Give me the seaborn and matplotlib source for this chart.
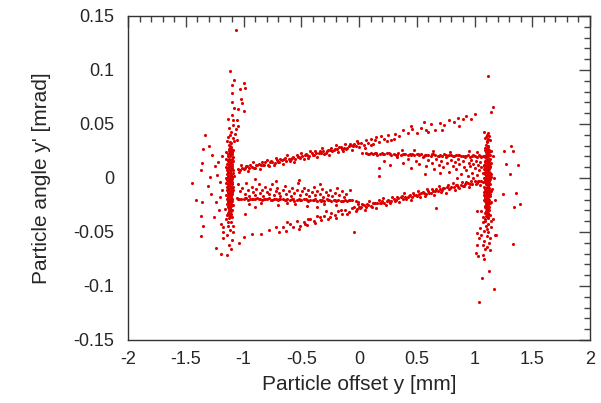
import pandas as pd
import matplotlib
matplotlib.use('Agg')
import matplotlib.pyplot as plt
import seaborn as sns
from matplotlib.ticker import MultipleLocator

# Particle offset y [mm], particle angle y' [mrad]

# dense vertical bunch on the left
left_core = [
    (-1.125, 0.031), (-1.108, 0.029), (-1.117, 0.026), (-1.101, 0.024), (-1.131, 0.022), (-1.112, 0.021),
    (-1.095, 0.019), (-1.122, 0.018), (-1.137, 0.016), (-1.105, 0.015), (-1.118, 0.013), (-1.128, 0.012),
    (-1.097, 0.011), (-1.111, 0.010), (-1.141, 0.009), (-1.123, 0.008), (-1.104, 0.007), (-1.132, 0.006),
    (-1.115, 0.005), (-1.092, 0.005), (-1.145, 0.004), (-1.126, 0.003), (-1.108, 0.002), (-1.136, 0.001),
    (-1.119, 0.000), (-1.099, -0.001), (-1.142, -0.002), (-1.113, -0.002), (-1.127, -0.004), (-1.104, -0.005),
    (-1.138, -0.006), (-1.118, -0.007), (-1.094, -0.008), (-1.131, -0.009), (-1.109, -0.010), (-1.146, -0.011),
    (-1.122, -0.012), (-1.101, -0.013), (-1.135, -0.014), (-1.115, -0.015), (-1.126, -0.017), (-1.106, -0.018),
    (-1.140, -0.019), (-1.119, -0.020), (-1.097, -0.021), (-1.130, -0.022), (-1.111, -0.024), (-1.124, -0.025),
    (-1.135, -0.027), (-1.114, -0.028), (-1.102, -0.030), (-1.127, -0.031), (-1.118, -0.033), (-1.109, -0.035),
    (-1.112, 0.032), (-1.121, 0.028), (-1.104, 0.027), (-1.127, 0.025), (-1.115, 0.023), (-1.098, 0.022),
    (-1.134, 0.020), (-1.109, 0.017), (-1.125, 0.015), (-1.139, 0.013), (-1.100, 0.013), (-1.116, 0.011),
    (-1.131, 0.009), (-1.107, 0.008), (-1.094, 0.007), (-1.120, 0.006), (-1.143, 0.007), (-1.112, 0.004),
    (-1.130, 0.002), (-1.101, 0.001), (-1.123, -0.001), (-1.148, -0.000), (-1.109, -0.003), (-1.134, -0.003),
    (-1.096, -0.004), (-1.121, -0.006), (-1.143, -0.008), (-1.107, -0.008), (-1.125, -0.010), (-1.116, -0.012),
    (-1.138, -0.013), (-1.098, -0.015), (-1.129, -0.016), (-1.110, -0.017), (-1.121, -0.019), (-1.134, -0.021),
    (-1.104, -0.022), (-1.117, -0.023), (-1.139, -0.024), (-1.107, -0.026), (-1.128, -0.028), (-1.120, -0.030),
    (-1.133, -0.032), (-1.106, -0.033),
    (-1.118, 0.030), (-1.129, 0.027), (-1.110, 0.025), (-1.120, 0.020), (-1.103, 0.018), (-1.133, 0.017),
    (-1.113, 0.014), (-1.123, 0.011), (-1.102, 0.009), (-1.136, 0.008), (-1.117, 0.007), (-1.128, 0.004),
    (-1.105, 0.003), (-1.114, 0.001), (-1.132, -0.001), (-1.120, -0.003), (-1.102, -0.006), (-1.130, -0.007),
    (-1.112, -0.009), (-1.137, -0.010), (-1.119, -0.011), (-1.106, -0.014), (-1.128, -0.013), (-1.115, -0.018),
    (-1.132, -0.018), (-1.100, -0.019), (-1.125, -0.021), (-1.112, -0.021), (-1.131, -0.025), (-1.118, -0.026),
    (-1.123, -0.029), (-1.110, -0.031), (-1.115, -0.036), (-1.124, -0.034),
    (-1.152, 0.018), (-1.088, 0.016), (-1.155, 0.010), (-1.086, 0.002), (-1.153, -0.005), (-1.089, -0.011),
    (-1.151, -0.016), (-1.090, -0.025), (-1.149, 0.024), (-1.087, 0.026),
]

left_tails = [
    (-1.117, 0.099), (-1.080, 0.091), (-1.100, 0.086), (-1.000, 0.088), (-1.030, 0.082), (-0.990, 0.083),
    (-1.100, 0.079), (-1.024, 0.073), (-1.100, 0.070), (-1.082, 0.065), (-1.045, 0.064), (-1.010, 0.069),
    (-0.993, 0.062), (-1.130, 0.055), (-1.094, 0.054), (-1.054, 0.054), (-1.088, 0.049), (-1.045, 0.048),
    (-1.108, 0.043), (-1.074, 0.041), (-1.130, 0.038), (-1.094, 0.037), (-1.060, 0.035), (-1.117, 0.033),
    (-1.125, 0.046), (-1.103, 0.058), (-1.068, 0.045), (-1.113, 0.040), (-1.140, 0.034), (-1.085, 0.034),
    (-1.117, -0.030), (-1.145, -0.034), (-1.100, -0.036), (-1.130, -0.041), (-1.088, -0.044), (-1.175, -0.045),
    (-1.117, -0.048), (-1.145, -0.053), (-1.100, -0.057), (-1.180, -0.050), (-1.125, -0.062), (-1.110, -0.066),
    (-1.145, -0.071), (-1.197, -0.070), (-1.238, -0.065), (-1.035, -0.060), (-0.984, -0.033), (-1.190, -0.011),
    (-1.155, -0.038), (-1.128, -0.037), (-1.105, -0.041), (-1.160, -0.029), (-1.135, -0.044), (-1.095, -0.050),
]

left_stray = [
    (-1.065, 0.137), (-1.443, -0.005), (-1.333, 0.040), (-1.353, 0.027), (-1.296, 0.030), (-1.275, 0.021),
    (-1.362, 0.014), (-1.247, 0.011), (-1.218, 0.015), (-1.370, 0.007), (-1.290, 0.001), (-1.232, 0.003),
    (-1.305, -0.007), (-1.284, -0.015), (-1.415, -0.020), (-1.362, -0.022), (-1.238, -0.022), (-1.210, -0.030),
    (-1.253, -0.036), (-1.370, -0.035), (-1.348, -0.044), (-1.195, -0.043), (-1.365, -0.054), (-1.175, -0.056),
    (-1.205, -0.004), (-1.185, 0.020), (-1.200, -0.018),
]

# dense vertical bunch on the right
right_core = [
    (1.112, 0.034), (1.098, 0.031), (1.121, 0.029), (1.105, 0.027), (1.089, 0.026), (1.128, 0.024),
    (1.110, 0.023), (1.096, 0.021), (1.118, 0.020), (1.134, 0.018), (1.102, 0.017), (1.087, 0.016),
    (1.115, 0.015), (1.126, 0.013), (1.094, 0.012), (1.108, 0.011), (1.138, 0.010), (1.121, 0.009),
    (1.083, 0.008), (1.100, 0.007), (1.113, 0.006), (1.131, 0.005), (1.092, 0.004), (1.106, 0.003),
    (1.123, 0.002), (1.141, 0.001), (1.085, 0.000), (1.099, -0.001), (1.116, -0.002), (1.129, -0.003),
    (1.091, -0.004), (1.108, -0.005), (1.136, -0.006), (1.120, -0.007), (1.081, -0.008), (1.097, -0.009),
    (1.112, -0.010), (1.127, -0.011), (1.090, -0.012), (1.104, -0.013), (1.119, -0.014), (1.133, -0.015),
    (1.086, -0.016), (1.101, -0.017), (1.115, -0.018), (1.124, -0.020), (1.093, -0.021), (1.109, -0.022),
    (1.130, -0.023), (1.098, -0.025), (1.117, -0.026), (1.089, -0.027), (1.106, -0.029), (1.125, -0.030),
    (1.095, -0.032), (1.113, -0.033), (1.101, -0.035),
    (1.104, 0.033), (1.116, 0.030), (1.093, 0.028), (1.124, 0.026), (1.101, 0.024), (1.113, 0.022),
    (1.131, 0.021), (1.090, 0.019), (1.107, 0.018), (1.122, 0.016), (1.097, 0.014), (1.111, 0.013),
    (1.084, 0.011), (1.130, 0.011), (1.100, 0.009), (1.117, 0.008), (1.092, 0.006), (1.125, 0.006),
    (1.109, 0.004), (1.137, 0.003), (1.096, 0.002), (1.115, 0.000), (1.103, -0.002), (1.132, -0.001),
    (1.088, -0.003), (1.122, -0.005), (1.100, -0.006), (1.114, -0.007), (1.094, -0.010), (1.129, -0.009),
    (1.107, -0.011), (1.084, -0.013), (1.123, -0.013), (1.111, -0.016), (1.096, -0.015), (1.135, -0.017),
    (1.105, -0.019), (1.088, -0.019), (1.120, -0.022), (1.100, -0.023), (1.114, -0.024), (1.092, -0.026),
    (1.127, -0.027), (1.110, -0.028), (1.099, -0.031), (1.119, -0.032), (1.107, -0.034),
    (1.108, 0.030), (1.097, 0.025), (1.118, 0.024), (1.104, 0.020), (1.125, 0.018), (1.112, 0.016),
    (1.093, 0.015), (1.120, 0.012), (1.105, 0.010), (1.128, 0.008), (1.110, 0.007), (1.097, 0.005),
    (1.118, 0.003), (1.102, 0.000), (1.124, -0.001), (1.092, -0.002), (1.110, -0.003), (1.127, -0.006),
    (1.104, -0.008), (1.118, -0.010), (1.099, -0.012), (1.113, -0.014), (1.126, -0.016), (1.094, -0.018),
    (1.108, -0.020), (1.119, -0.019), (1.104, -0.024), (1.121, -0.025), (1.096, -0.028), (1.113, -0.030),
    (1.104, -0.032), (1.116, -0.036),
    (1.146, 0.014), (1.078, 0.012), (1.147, 0.004), (1.077, -0.004), (1.145, -0.012), (1.079, -0.020),
    (1.144, -0.022), (1.080, 0.020), (1.143, 0.025),
]

right_tails = [
    (1.085, 0.043), (1.120, 0.042), (1.100, 0.038), (1.134, 0.035), (1.090, 0.037), (1.115, 0.036),
    (1.105, 0.040), (1.127, 0.039),
    (1.120, -0.037), (1.060, -0.031), (1.133, -0.034), (1.090, -0.038), (1.019, -0.031), (1.157, -0.038),
    (1.070, -0.041), (1.120, -0.043), (1.050, -0.046), (1.105, -0.047), (1.140, -0.045), (1.024, -0.051),
    (1.060, -0.053), (1.105, -0.054), (1.177, -0.053), (1.041, -0.056), (1.085, -0.058), (1.125, -0.060),
    (1.070, -0.062), (1.019, -0.062), (1.110, -0.064), (1.013, -0.069), (1.070, -0.071), (1.130, -0.067),
    (1.030, -0.072), (1.085, -0.075), (1.128, -0.086), (1.065, -0.093), (1.169, -0.103), (1.042, -0.115),
    (1.095, -0.040), (1.115, -0.050), (1.080, -0.049), (1.100, -0.044), (1.130, -0.056), (1.090, -0.066),
    (1.075, -0.036), (1.140, -0.040),
]

right_stray = [
    (1.120, 0.094), (1.163, 0.066), (1.143, 0.061), (1.258, 0.025), (1.316, 0.030), (1.336, 0.025),
    (1.273, 0.013), (1.380, 0.012), (1.307, 0.004), (1.250, -0.015), (1.360, -0.014), (1.394, -0.024),
    (1.342, -0.027), (1.186, -0.053), (1.331, -0.061), (1.170, 0.000), (1.180, -0.020), (1.160, 0.020),
    (1.150, -0.010),
]

# upper rising band
band_upper = [
    (-1.05, 0.0087), (-1.03, 0.0072), (-1.01, 0.0091), (-0.99, 0.0088), (-0.97, 0.0111), (-0.95, 0.0092),
    (-0.93, 0.0106), (-0.91, 0.0095), (-0.89, 0.0120), (-0.87, 0.0129), (-0.85, 0.0121), (-0.83, 0.0120),
    (-0.81, 0.0144), (-0.79, 0.0123), (-0.77, 0.0145), (-0.75, 0.0145), (-0.73, 0.0143), (-0.71, 0.0163),
    (-0.69, 0.0148), (-0.67, 0.0168), (-0.65, 0.0175), (-0.63, 0.0160), (-0.61, 0.0179), (-0.59, 0.0176),
    (-0.57, 0.0199), (-0.55, 0.0180), (-0.53, 0.0194), (-0.51, 0.0183), (-0.49, 0.0208), (-0.47, 0.0217),
    (-0.45, 0.0209), (-0.43, 0.0208), (-0.41, 0.0232), (-0.39, 0.0211), (-0.37, 0.0233), (-0.35, 0.0233),
    (-0.33, 0.0231), (-0.31, 0.0251), (-0.29, 0.0236), (-0.27, 0.0256), (-0.25, 0.0263), (-0.23, 0.0248),
    (-0.21, 0.0267), (-0.19, 0.0264), (-0.17, 0.0287), (-0.15, 0.0268), (-0.13, 0.0282), (-0.11, 0.0271),
    (-0.09, 0.0296), (-0.07, 0.0305), (-0.05, 0.0297), (-0.03, 0.0296), (-0.01, 0.0320),
    (-1.04, 0.0056), (-1.02, 0.0116), (-1.00, 0.0080), (-0.98, 0.0114), (-0.96, 0.0064), (-0.94, 0.0118),
    (-0.92, 0.0148), (-0.90, 0.0092), (-0.88, 0.0121), (-0.86, 0.0081), (-0.84, 0.0150), (-0.82, 0.0125),
    (-0.80, 0.0169), (-0.78, 0.0108), (-0.76, 0.0153), (-0.74, 0.0122), (-0.72, 0.0182), (-0.70, 0.0146),
    (-0.68, 0.0180), (-0.66, 0.0130), (-0.64, 0.0184), (-0.62, 0.0214), (-0.60, 0.0158), (-0.58, 0.0187),
    (-0.56, 0.0147), (-0.54, 0.0216), (-0.52, 0.0191), (-0.50, 0.0235), (-0.48, 0.0174), (-0.46, 0.0219),
    (-0.44, 0.0188), (-0.42, 0.0248), (-0.40, 0.0212), (-0.38, 0.0246), (-0.36, 0.0196), (-0.34, 0.0250),
    (-0.32, 0.0280), (-0.30, 0.0224), (-0.28, 0.0253), (-0.26, 0.0213), (-0.24, 0.0282), (-0.22, 0.0257),
    (-0.20, 0.0301), (-0.18, 0.0240), (-0.16, 0.0285), (-0.14, 0.0254), (-0.12, 0.0314), (-0.10, 0.0278),
    (-0.08, 0.0312), (-0.06, 0.0262), (-0.04, 0.0316), (-0.02, 0.0346), (0.00, 0.0290),
    (0.02, 0.0325), (0.04, 0.0301), (0.06, 0.0356), (0.08, 0.0322), (0.10, 0.0357), (0.12, 0.0312),
    (0.14, 0.0353), (0.17, 0.0336), (0.19, 0.0391), (0.22, 0.0359), (0.25, 0.0398), (0.28, 0.0356),
    (0.31, 0.0404), (0.35, 0.0385), (0.38, 0.0443), (0.42, 0.0413), (0.46, 0.0454), (0.50, 0.0415),
    (0.54, 0.0466), (0.58, 0.0447), (0.62, 0.0497), (0.66, 0.0448), (0.70, 0.0509), (0.74, 0.0490),
    (0.78, 0.0541), (0.82, 0.0521), (0.86, 0.0552), (0.90, 0.0543), (0.93, 0.0571), (0.97, 0.0542),
    (1.00, 0.0590), (0.15, 0.0380), (0.05, 0.0280), (0.30, 0.0360), (0.60, 0.0430), (0.56, 0.0520),
    (0.45, 0.0480), (0.87, 0.0480), (0.72, 0.0440), (0.24, 0.0340), (0.10, 0.0310),
]

# upper flat line
flat_upper = [
    (0.06, 0.0232), (0.08, 0.0220), (0.10, 0.0228), (0.12, 0.0222), (0.14, 0.0233), (0.16, 0.0216),
    (0.18, 0.0224), (0.20, 0.0227), (0.22, 0.0218), (0.24, 0.0229), (0.26, 0.0227), (0.28, 0.0215),
    (0.30, 0.0223), (0.32, 0.0217), (0.34, 0.0228), (0.36, 0.0211), (0.38, 0.0219), (0.40, 0.0222),
    (0.42, 0.0213), (0.44, 0.0224), (0.46, 0.0222), (0.48, 0.0210), (0.50, 0.0218), (0.52, 0.0212),
    (0.54, 0.0223), (0.56, 0.0206), (0.58, 0.0214), (0.60, 0.0217), (0.62, 0.0208), (0.64, 0.0219),
    (0.66, 0.0217), (0.68, 0.0205), (0.70, 0.0213), (0.72, 0.0207), (0.74, 0.0218), (0.76, 0.0201),
    (0.78, 0.0209), (0.80, 0.0212), (0.82, 0.0203), (0.84, 0.0214), (0.86, 0.0212), (0.88, 0.0200),
    (0.90, 0.0208), (0.92, 0.0202), (0.94, 0.0213), (0.96, 0.0196), (0.98, 0.0204), (1.00, 0.0207),
    (1.02, 0.0198), (1.04, 0.0209), (1.06, 0.0198),
    (0.03, 0.0230), (0.09, 0.0222), (0.15, 0.0230), (0.21, 0.0219), (0.27, 0.0226), (0.33, 0.0214),
    (0.39, 0.0224), (0.45, 0.0211), (0.51, 0.0222), (0.57, 0.0210), (0.63, 0.0220), (0.69, 0.0208),
    (0.75, 0.0215), (0.81, 0.0206), (0.87, 0.0215), (0.93, 0.0205), (0.99, 0.0212), (1.05, 0.0203),
    (1.07, 0.0206),
]

halo_upper = [
    (0.22, 0.016), (0.27, 0.012), (0.33, 0.019), (0.38, 0.014), (0.42, 0.018), (0.45, 0.009),
    (0.49, 0.016), (0.52, 0.013), (0.55, 0.019), (0.58, 0.011), (0.60, 0.017), (0.63, 0.014),
    (0.65, 0.008), (0.67, 0.018), (0.69, 0.012), (0.71, 0.016), (0.73, 0.010), (0.75, 0.019),
    (0.76, 0.014), (0.78, 0.006), (0.80, 0.017), (0.81, 0.011), (0.83, 0.015), (0.84, 0.008),
    (0.86, 0.018), (0.87, 0.013), (0.88, 0.004), (0.90, 0.016), (0.91, 0.010), (0.92, 0.019),
    (0.93, 0.007), (0.95, 0.014), (0.96, 0.011), (0.97, 0.017), (0.98, 0.005), (0.99, 0.013),
    (1.00, 0.009), (1.01, 0.016), (1.02, 0.003), (1.03, 0.012), (1.04, 0.007), (1.05, 0.015),
    (1.06, 0.010), (1.07, 0.005), (0.94, 0.002), (0.85, 0.000), (0.70, 0.005), (0.57, 0.004),
    (0.17, 0.009), (0.37, 0.026), (0.48, 0.026), (0.64, 0.025), (0.79, 0.024), (0.95, 0.025),
    (1.02, 0.024), (0.17, 0.002),
]

# lower flat line
flat_lower = [
    (-1.06, -0.0186), (-1.04, -0.0197), (-1.02, -0.0190), (-1.00, -0.0195), (-0.98, -0.0184), (-0.96, -0.0201),
    (-0.94, -0.0193), (-0.92, -0.0190), (-0.90, -0.0199), (-0.88, -0.0187), (-0.86, -0.0190), (-0.84, -0.0201),
    (-0.82, -0.0194), (-0.80, -0.0199), (-0.78, -0.0188), (-0.76, -0.0205), (-0.74, -0.0197), (-0.72, -0.0194),
    (-0.70, -0.0203), (-0.68, -0.0191), (-0.66, -0.0194), (-0.64, -0.0205), (-0.62, -0.0198), (-0.60, -0.0203),
    (-0.58, -0.0192), (-0.56, -0.0209), (-0.54, -0.0201), (-0.52, -0.0198), (-0.50, -0.0207), (-0.48, -0.0195),
    (-0.46, -0.0198), (-0.44, -0.0209), (-0.42, -0.0202), (-0.40, -0.0207), (-0.38, -0.0196), (-0.36, -0.0213),
    (-0.34, -0.0205), (-0.32, -0.0202), (-0.30, -0.0211), (-0.28, -0.0199), (-0.26, -0.0202), (-0.24, -0.0213),
    (-0.22, -0.0206), (-0.20, -0.0211), (-0.18, -0.0200), (-0.16, -0.0217), (-0.14, -0.0209), (-0.12, -0.0206),
    (-0.10, -0.0215), (-0.08, -0.0203), (-0.06, -0.0206),
    (-1.05, -0.0195), (-0.99, -0.0188), (-0.93, -0.0198), (-0.87, -0.0193), (-0.81, -0.0191), (-0.75, -0.0200),
    (-0.69, -0.0196), (-0.63, -0.0202), (-0.57, -0.0197), (-0.51, -0.0204), (-0.45, -0.0200), (-0.39, -0.0201),
    (-0.33, -0.0209), (-0.27, -0.0204), (-0.21, -0.0203), (-0.15, -0.0212), (-0.09, -0.0208), (-0.03, -0.0213),
    (-0.01, -0.0220),
]

halo_lower = [
    (-1.05, -0.006), (-1.03, -0.012), (-1.01, -0.009), (-0.99, -0.015), (-0.98, -0.005), (-0.96, -0.011),
    (-0.95, -0.017), (-0.93, -0.008), (-0.92, -0.013), (-0.90, -0.016), (-0.89, -0.010), (-0.87, -0.006),
    (-0.86, -0.014), (-0.84, -0.011), (-0.83, -0.017), (-0.81, -0.008), (-0.80, -0.013), (-0.78, -0.015),
    (-0.77, -0.010), (-0.75, -0.006), (-0.74, -0.016), (-0.72, -0.012), (-0.71, -0.009), (-0.69, -0.014),
    (-0.68, -0.017), (-0.66, -0.011), (-0.64, -0.007), (-0.63, -0.015), (-0.61, -0.012), (-0.59, -0.017),
    (-0.58, -0.009), (-0.56, -0.014), (-0.54, -0.011), (-0.53, -0.005), (-0.51, -0.016), (-0.49, -0.012),
    (-0.48, -0.009), (-0.46, -0.015), (-0.44, -0.011), (-0.43, -0.017), (-0.41, -0.013), (-0.39, -0.008),
    (-0.38, -0.016), (-0.36, -0.012), (-0.34, -0.015), (-0.32, -0.010), (-0.31, -0.018), (-0.29, -0.013),
    (-0.27, -0.016), (-0.25, -0.011), (-0.23, -0.017), (-0.21, -0.014), (-0.19, -0.009), (-0.17, -0.016),
    (-0.15, -0.012), (-0.13, -0.018), (-0.11, -0.015), (-0.08, -0.011),
    (-0.95, -0.024), (-0.85, -0.023), (-0.70, -0.025), (-0.55, -0.024), (-0.45, -0.026), (-0.30, -0.024),
    (-0.20, -0.025), (-0.62, -0.023), (-0.90, -0.027), (-0.36, -0.027),
    (-0.72, -0.003), (-0.52, -0.002), (-0.34, -0.006), (-0.90, -0.001), (-0.04, -0.050), (0.67, -0.028),
]

# lower rising band
band_lower = [
    (-1.00, -0.0550), (-0.93, -0.0519), (-0.85, -0.0515), (-0.78, -0.0484), (-0.72, -0.0456), (-0.69, -0.0497),
    (-0.66, -0.0458), (-0.63, -0.0489), (-0.60, -0.0430), (-0.57, -0.0451), (-0.54, -0.0402), (-0.51, -0.0443),
    (-0.48, -0.0404), (-0.45, -0.0435), (-0.42, -0.0376), (-0.39, -0.0397), (-0.36, -0.0348), (-0.33, -0.0389),
    (-0.30, -0.0350), (-0.27, -0.0381), (-0.24, -0.0322), (-0.21, -0.0343), (-0.18, -0.0304), (-0.15, -0.0335),
    (-0.12, -0.0296), (-0.09, -0.0317), (-0.06, -0.0278), (-0.62, -0.0410), (-0.44, -0.0380), (-0.25, -0.0360),
    (-0.16, -0.0300), (-0.38, -0.0420), (-0.52, -0.0470), (-0.10, -0.0330), (-0.29, -0.0310), (-0.20, -0.0370),
    (-0.34, -0.0360), (-0.47, -0.0430),
    (-0.04, -0.0271), (-0.02, -0.0286), (0.00, -0.0267), (0.02, -0.0269), (0.04, -0.0247), (0.06, -0.0265),
    (0.08, -0.0251), (0.10, -0.0262), (0.12, -0.0236), (0.14, -0.0228), (0.16, -0.0235), (0.18, -0.0236),
    (0.20, -0.0212), (0.22, -0.0232), (0.24, -0.0211), (0.26, -0.0210), (0.28, -0.0212), (0.30, -0.0192),
    (0.32, -0.0206), (0.34, -0.0187), (0.36, -0.0179), (0.38, -0.0194), (0.40, -0.0175), (0.42, -0.0177),
    (0.44, -0.0155), (0.46, -0.0173), (0.48, -0.0159), (0.50, -0.0170), (0.52, -0.0144), (0.54, -0.0136),
    (0.56, -0.0143), (0.58, -0.0144), (0.60, -0.0120), (0.62, -0.0140), (0.64, -0.0119), (0.66, -0.0118),
    (0.68, -0.0120), (0.70, -0.0100), (0.72, -0.0114), (0.74, -0.0095), (0.76, -0.0087), (0.78, -0.0102),
    (0.80, -0.0083), (0.82, -0.0085), (0.84, -0.0063), (0.86, -0.0081), (0.88, -0.0067), (0.90, -0.0078),
    (0.92, -0.0052), (0.94, -0.0044), (0.96, -0.0051), (0.98, -0.0052), (1.00, -0.0028), (1.02, -0.0048),
    (1.04, -0.0027), (1.06, -0.0026),
    (-0.03, -0.0302), (-0.01, -0.0242), (0.01, -0.0278), (0.03, -0.0243), (0.05, -0.0294), (0.07, -0.0239),
    (0.09, -0.0209), (0.11, -0.0265), (0.13, -0.0235), (0.15, -0.0276), (0.17, -0.0206), (0.19, -0.0231),
    (0.21, -0.0187), (0.23, -0.0247), (0.25, -0.0203), (0.27, -0.0233), (0.29, -0.0173), (0.31, -0.0209),
    (0.33, -0.0174), (0.35, -0.0225), (0.37, -0.0170), (0.39, -0.0140), (0.41, -0.0196), (0.43, -0.0166),
    (0.45, -0.0207), (0.47, -0.0137), (0.49, -0.0162), (0.51, -0.0118), (0.53, -0.0178), (0.55, -0.0134),
    (0.57, -0.0164), (0.59, -0.0104), (0.61, -0.0140), (0.63, -0.0105), (0.65, -0.0156), (0.67, -0.0101),
    (0.69, -0.0071), (0.71, -0.0127), (0.73, -0.0097), (0.75, -0.0138), (0.77, -0.0068), (0.79, -0.0093),
    (0.81, -0.0049), (0.83, -0.0109), (0.85, -0.0065), (0.87, -0.0095), (0.89, -0.0035), (0.91, -0.0071),
    (0.93, -0.0036), (0.95, -0.0087), (0.97, -0.0032), (0.99, -0.0002), (1.01, -0.0058), (1.03, -0.0028),
    (1.05, -0.0069),
]

x_ticks = [-2, -1.5, -1, -0.5, 0, 0.5, 1, 1.5, 2]
y_ticks = [-0.15, -0.1, -0.05, 0, 0.05, 0.1, 0.15]

groups = [left_core, left_tails, left_stray, right_core, right_tails, right_stray,
          band_upper, flat_upper, halo_upper, flat_lower, halo_lower, band_lower]
df = pd.DataFrame([p for g in groups for p in g], columns=['offset', 'angle'])

sns.set_style('white')
plt.rcParams['font.family'] = ['Liberation Sans', 'DejaVu Sans']

fig = plt.figure(figsize=(6.01, 4.03), dpi=100)
ax = fig.add_axes([128 / 601, 63 / 403, 462 / 601, 324 / 403])
sns.scatterplot(data=df, x='offset', y='angle', s=5, color='#dd0000', linewidth=0, ax=ax)

ax.set_xlim(-2, 2)
ax.set_ylim(-0.15, 0.15)
ax.set_xticks(x_ticks)
ax.set_xticklabels([f'{v:g}' for v in x_ticks])
ax.set_yticks(y_ticks)
ax.set_yticklabels([f'{v:g}' for v in y_ticks])
ax.xaxis.set_minor_locator(MultipleLocator(0.1))
ax.yaxis.set_minor_locator(MultipleLocator(0.01))
ax.tick_params(which='both', direction='in', top=True, right=True, color='#444444', width=1)
ax.tick_params(which='major', length=8, labelsize=13)
ax.tick_params(axis='y', which='major', pad=10)
ax.tick_params(axis='x', which='major', pad=8)
ax.tick_params(which='minor', length=4)
for sp in ax.spines.values():
    sp.set_color('#333333')
    sp.set_linewidth(1)

ax.set_xlabel('Particle offset y [mm]', fontsize=15, labelpad=5)
ax.set_ylabel("Particle angle y' [mrad]", fontsize=15, labelpad=16)

fig.savefig('out.png', dpi=100)
